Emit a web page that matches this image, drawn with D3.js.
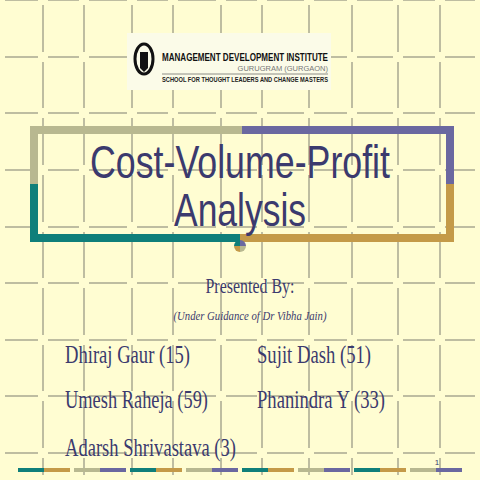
<!DOCTYPE html>
<html>
<head>
<meta charset="utf-8">
<script src="https://cdn.jsdelivr.net/npm/d3@7"></script>
<style>body{margin:0;background:#fffdd2}</style>
</head>
<body>
<div class="mainVis"></div>
<script>
var width = 480, height = 480

// slide content
var gridCols = [0, 43, 84, 132, 173, 221, 262, 309, 352, 398, 440, 480]
var gridRows = [0, 57, 113, 170, 227, 283, 340, 396, 453, 480]
var titleLines = ["Cost-Volume-Profit", "Analysis"]
var presenters = ["Dhiraj Gaur (15)", "Sujit Dash (51)", "Umesh Raheja (59)", "Phanindra Y (33)", "Adarsh Shrivastava (3)"]
var footerColors = [["#0f7f7a", "#c49a48"], ["#b8b890", "#6a68a0"]]
var footerPairs = [0, 1, 0, 1, 0, 1, 0, 1]

var svg = d3.select(".mainVis").append("svg")
    .attr("width", width).attr("height", height)

svg.append("rect").attr("width", width).attr("height", height).attr("fill", "#fffdd2")

// broken grid
var gap = 5
var g = svg.append("g").attr("stroke", "#a9a790").attr("stroke-width", 1.5)
gridRows.slice(0, -1).forEach(function(y) {
    for (var i = 0; i < gridCols.length - 1; i++) {
        g.append("line").attr("x1", gridCols[i] + gap).attr("x2", gridCols[i+1] - gap)
            .attr("y1", y).attr("y2", y)
    }
})
gridCols.slice(1, -1).forEach(function(x) {
    for (var i = 0; i < gridRows.length - 1; i++) {
        g.append("line").attr("y1", gridRows[i] + gap).attr("y2", gridRows[i+1] - gap)
            .attr("x1", x).attr("x2", x)
    }
})

// logo
var logo = svg.append("g")
logo.append("rect").attr("x", 127).attr("y", 33).attr("width", 204).attr("height", 57).attr("fill", "#fbfbe8")
logo.append("ellipse").attr("cx", 144).attr("cy", 59).attr("rx", 9).attr("ry", 15)
    .attr("fill", "none").attr("stroke", "#111").attr("stroke-width", 3)
logo.append("path").attr("d", "M140,52 L148,52 L148,68 L144,72 L140,68 Z").attr("fill", "#111")
logo.append("text").attr("x", 162).attr("y", 61).attr("textLength", 166).attr("lengthAdjust", "spacingAndGlyphs")
    .attr("font-family", "Liberation Sans, Arial").attr("font-weight", "bold").attr("font-size", 11).attr("fill", "#111")
    .text("MANAGEMENT DEVELOPMENT INSTITUTE")
logo.append("text").attr("x", 328).attr("y", 71).attr("text-anchor", "end")
    .attr("font-family", "Liberation Sans, Arial").attr("font-size", 7.5).attr("fill", "#777")
    .text("GURUGRAM (GURGAON)")
logo.append("line").attr("x1", 162).attr("x2", 328).attr("y1", 74).attr("y2", 74).attr("stroke", "#444").attr("stroke-width", 0.6)
logo.append("text").attr("x", 162).attr("y", 82).attr("textLength", 166).attr("lengthAdjust", "spacingAndGlyphs")
    .attr("font-family", "Liberation Sans, Arial").attr("font-weight", "bold").attr("font-size", 7).attr("fill", "#222")
    .text("SCHOOL FOR THOUGHT LEADERS AND CHANGE MASTERS")

// title frame
var f = svg.append("g").attr("stroke-width", 8).attr("fill", "none")
f.append("path").attr("d", "M34,184 V130 H242").attr("stroke", "#b8b890")
f.append("path").attr("d", "M242,130 H450 V184").attr("stroke", "#6a68a0")
f.append("path").attr("d", "M34,184 V238 H240").attr("stroke", "#0f7f7a")
f.append("path").attr("d", "M240,238 H450 V184").attr("stroke", "#c49a48")

svg.selectAll(".title").data(titleLines).enter().append("text")
    .attr("x", 240).attr("y", function(d, i) { return 178 + i * 48 })
    .attr("text-anchor", "middle")
    .attr("textLength", function(d, i) { return i ? 132 : 300 })
    .attr("lengthAdjust", "spacingAndGlyphs")
    .attr("font-family", "Liberation Sans, Arial").attr("font-size", 47).attr("fill", "#3b3a6e")
    .text(function(d) { return d })

// little ball
var ball = svg.append("g").attr("transform", "translate(240,246)")
var quad = ["#6a68a0", "#b8b890", "#c49a48", "#0f7f7a"]
d3.pie()([1, 1, 1, 1]).forEach(function(p, i) {
    ball.append("path").attr("d", d3.arc().innerRadius(0).outerRadius(6)(p)).attr("fill", quad[i])
})

// subtitle
svg.append("text").attr("x", 250).attr("y", 293).attr("text-anchor", "middle")
    .attr("textLength", 89).attr("lengthAdjust", "spacingAndGlyphs")
    .attr("font-family", "Liberation Serif, Times New Roman").attr("font-size", 21).attr("fill", "#3b3a6e")
    .text("Presented By:")
svg.append("text").attr("x", 250).attr("y", 320).attr("text-anchor", "middle")
    .attr("textLength", 153).attr("lengthAdjust", "spacingAndGlyphs")
    .attr("font-family", "Liberation Serif, Times New Roman").attr("font-style", "italic").attr("font-size", 13).attr("fill", "#3b3a6e")
    .text("(Under Guidance of Dr Vibha Jain)")

// names
var nameX = [65, 257, 65, 257, 65], nameY = [363, 363, 408, 408, 456], nameW = [125, 114, 143, 128, 171]
svg.selectAll(".name").data(presenters).enter().append("text")
    .attr("x", function(d, i) { return nameX[i] })
    .attr("y", function(d, i) { return nameY[i] })
    .attr("textLength", function(d, i) { return nameW[i] })
    .attr("lengthAdjust", "spacingAndGlyphs")
    .attr("font-family", "Liberation Serif, Times New Roman").attr("font-size", 26).attr("fill", "#3b3a6e")
    .text(function(d) { return d })

// footer strip
footerPairs.forEach(function(c, i) {
    var x0 = 18 + i * 56
    svg.append("rect").attr("x", x0).attr("y", 468).attr("width", 26).attr("height", 4).attr("fill", footerColors[c][0])
    svg.append("rect").attr("x", x0 + 26).attr("y", 468).attr("width", 26).attr("height", 4).attr("fill", footerColors[c][1])
})
svg.append("text").attr("x", 437).attr("y", 465).attr("text-anchor", "middle")
    .attr("font-family", "Liberation Sans, Arial").attr("font-size", 8).attr("fill", "#3b3a6e").text("1")
</script>
</body>
</html>
